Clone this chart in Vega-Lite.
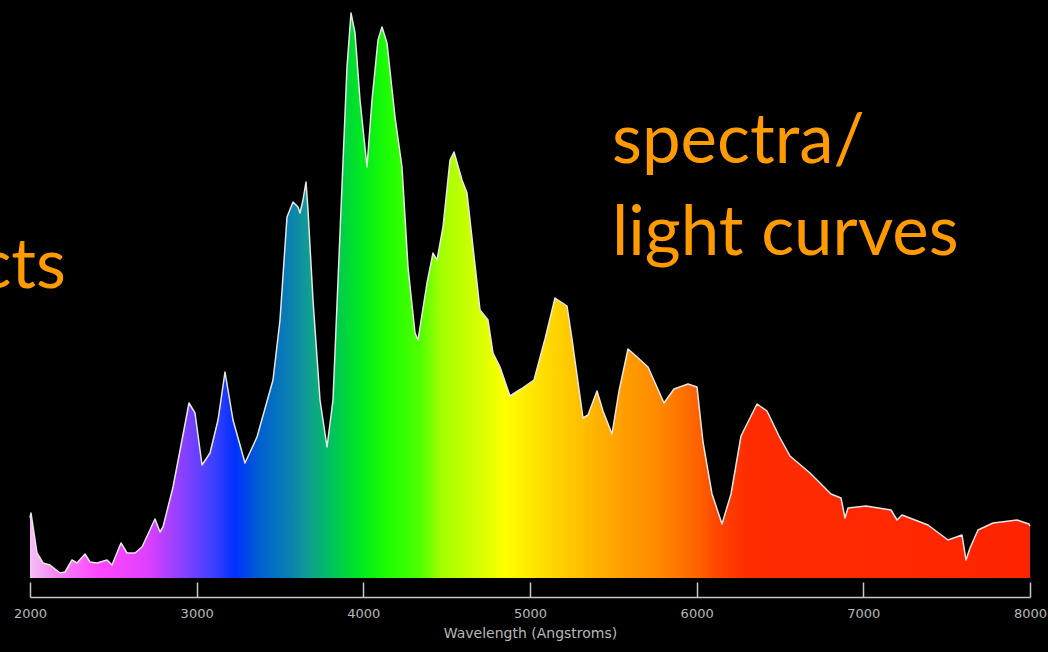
{
  "$schema": "https://vega.github.io/schema/vega-lite/v6.json",
  "width": 1000,
  "height": 578,
  "autosize": {"type": "none"},
  "padding": {"left": 30, "right": 18, "top": 0, "bottom": 74},
  "background": "#000000",
  "config": {"view": {"stroke": null}},
  "datasets": {
    "spectrum": [
      {"wavelength": 2000, "flux": 60}, {"wavelength": 2006, "flux": 65}, {"wavelength": 2042, "flux": 25},
      {"wavelength": 2078, "flux": 15}, {"wavelength": 2120, "flux": 13}, {"wavelength": 2180, "flux": 5},
      {"wavelength": 2210, "flux": 6}, {"wavelength": 2252, "flux": 18}, {"wavelength": 2282, "flux": 15},
      {"wavelength": 2330, "flux": 24}, {"wavelength": 2360, "flux": 16}, {"wavelength": 2402, "flux": 15},
      {"wavelength": 2462, "flux": 18}, {"wavelength": 2492, "flux": 13}, {"wavelength": 2546, "flux": 35},
      {"wavelength": 2582, "flux": 25}, {"wavelength": 2630, "flux": 25}, {"wavelength": 2672, "flux": 31},
      {"wavelength": 2750, "flux": 59}, {"wavelength": 2780, "flux": 46}, {"wavelength": 2798, "flux": 51},
      {"wavelength": 2858, "flux": 91}, {"wavelength": 2912, "flux": 138}, {"wavelength": 2954, "flux": 175},
      {"wavelength": 2990, "flux": 165}, {"wavelength": 3032, "flux": 113}, {"wavelength": 3080, "flux": 125},
      {"wavelength": 3128, "flux": 158}, {"wavelength": 3170, "flux": 206}, {"wavelength": 3218, "flux": 158},
      {"wavelength": 3290, "flux": 115}, {"wavelength": 3362, "flux": 141}, {"wavelength": 3458, "flux": 198},
      {"wavelength": 3500, "flux": 258}, {"wavelength": 3542, "flux": 361}, {"wavelength": 3578, "flux": 376},
      {"wavelength": 3608, "flux": 371}, {"wavelength": 3620, "flux": 365}, {"wavelength": 3638, "flux": 378},
      {"wavelength": 3656, "flux": 396}, {"wavelength": 3668, "flux": 368}, {"wavelength": 3698, "flux": 278},
      {"wavelength": 3740, "flux": 178}, {"wavelength": 3782, "flux": 131}, {"wavelength": 3818, "flux": 178},
      {"wavelength": 3860, "flux": 345}, {"wavelength": 3902, "flux": 511}, {"wavelength": 3926, "flux": 565},
      {"wavelength": 3950, "flux": 545}, {"wavelength": 3980, "flux": 478}, {"wavelength": 4022, "flux": 411},
      {"wavelength": 4052, "flux": 478}, {"wavelength": 4088, "flux": 538}, {"wavelength": 4112, "flux": 551},
      {"wavelength": 4142, "flux": 535}, {"wavelength": 4190, "flux": 461}, {"wavelength": 4232, "flux": 411},
      {"wavelength": 4268, "flux": 311}, {"wavelength": 4310, "flux": 245}, {"wavelength": 4328, "flux": 238},
      {"wavelength": 4382, "flux": 295}, {"wavelength": 4418, "flux": 325}, {"wavelength": 4442, "flux": 318},
      {"wavelength": 4478, "flux": 351}, {"wavelength": 4520, "flux": 418}, {"wavelength": 4544, "flux": 426},
      {"wavelength": 4592, "flux": 398}, {"wavelength": 4622, "flux": 385}, {"wavelength": 4658, "flux": 331},
      {"wavelength": 4700, "flux": 268}, {"wavelength": 4748, "flux": 258}, {"wavelength": 4778, "flux": 225},
      {"wavelength": 4820, "flux": 211}, {"wavelength": 4880, "flux": 182}, {"wavelength": 4946, "flux": 189},
      {"wavelength": 5024, "flux": 198}, {"wavelength": 5090, "flux": 239}, {"wavelength": 5150, "flux": 280},
      {"wavelength": 5222, "flux": 272}, {"wavelength": 5252, "flux": 239}, {"wavelength": 5318, "flux": 160},
      {"wavelength": 5348, "flux": 163}, {"wavelength": 5402, "flux": 187}, {"wavelength": 5438, "flux": 167},
      {"wavelength": 5492, "flux": 144}, {"wavelength": 5534, "flux": 187}, {"wavelength": 5588, "flux": 229},
      {"wavelength": 5636, "flux": 222}, {"wavelength": 5708, "flux": 211}, {"wavelength": 5804, "flux": 175},
      {"wavelength": 5864, "flux": 189}, {"wavelength": 5948, "flux": 194}, {"wavelength": 6002, "flux": 191},
      {"wavelength": 6038, "flux": 136}, {"wavelength": 6092, "flux": 84}, {"wavelength": 6152, "flux": 54},
      {"wavelength": 6206, "flux": 84}, {"wavelength": 6266, "flux": 142}, {"wavelength": 6362, "flux": 174},
      {"wavelength": 6422, "flux": 167}, {"wavelength": 6494, "flux": 142}, {"wavelength": 6560, "flux": 122},
      {"wavelength": 6680, "flux": 105}, {"wavelength": 6806, "flux": 84}, {"wavelength": 6866, "flux": 80},
      {"wavelength": 6890, "flux": 60}, {"wavelength": 6908, "flux": 70}, {"wavelength": 7016, "flux": 72},
      {"wavelength": 7166, "flux": 68}, {"wavelength": 7202, "flux": 58}, {"wavelength": 7232, "flux": 63},
      {"wavelength": 7388, "flux": 53}, {"wavelength": 7508, "flux": 38}, {"wavelength": 7592, "flux": 43},
      {"wavelength": 7616, "flux": 18}, {"wavelength": 7640, "flux": 30}, {"wavelength": 7688, "flux": 48},
      {"wavelength": 7778, "flux": 55}, {"wavelength": 7922, "flux": 58}, {"wavelength": 7994, "flux": 54},
      {"wavelength": 8000, "flux": 52}
    ],
    "leftNotes": [
      {"note": "spectra/", "wavelength": 5492, "flux": 415},
      {"note": "light curves", "wavelength": 5492, "flux": 323}
    ],
    "rightNotes": [
      {"note": "objects", "wavelength": 2216, "flux": 290}
    ]
  },
  "resolve": {"axis": {"x": "independent"}},
  "layer": [
    {
      "data": {"name": "spectrum"},
      "mark": {
        "type": "area",
        "interpolate": "linear",
        "fill": {
          "gradient": "linear",
          "x1": 0, "y1": 0, "x2": 1, "y2": 0,
          "stops": [
            {"offset": 0.0, "color": "#f6c0f6"},
            {"offset": 0.025, "color": "#f488f2"},
            {"offset": 0.067, "color": "#ff48ff"},
            {"offset": 0.117, "color": "#e040ff"},
            {"offset": 0.15, "color": "#9040ff"},
            {"offset": 0.185, "color": "#3a40ff"},
            {"offset": 0.205, "color": "#0030ff"},
            {"offset": 0.23, "color": "#0060d0"},
            {"offset": 0.26, "color": "#0a80b0"},
            {"offset": 0.28, "color": "#10a090"},
            {"offset": 0.3, "color": "#00c060"},
            {"offset": 0.33, "color": "#00e820"},
            {"offset": 0.36, "color": "#20ff00"},
            {"offset": 0.39, "color": "#50ff00"},
            {"offset": 0.41, "color": "#a0ff00"},
            {"offset": 0.45, "color": "#d8ff00"},
            {"offset": 0.475, "color": "#ffff00"},
            {"offset": 0.51, "color": "#ffe000"},
            {"offset": 0.55, "color": "#ffc000"},
            {"offset": 0.59, "color": "#ffa000"},
            {"offset": 0.63, "color": "#ff8800"},
            {"offset": 0.67, "color": "#ff6000"},
            {"offset": 0.685, "color": "#ff4800"},
            {"offset": 0.717, "color": "#ff2c00"},
            {"offset": 1.0, "color": "#ff2400"}
          ]
        }
      },
      "encoding": {
        "x": {
          "field": "wavelength", "type": "quantitative",
          "scale": {"domain": [2000, 8000], "nice": false, "zero": false},
          "axis": {
            "values": [2000, 3000, 4000, 5000, 6000, 7000, 8000],
            "format": "d",
            "offset": 19,
            "domain": true, "domainColor": "#c8c8c8", "domainWidth": 1.5,
            "ticks": true, "tickSize": -15, "tickColor": "#c8c8c8", "tickWidth": 1.5,
            "grid": false,
            "labelFont": "DejaVu Sans", "labelFontSize": 13, "labelColor": "#b8b8b8",
            "labelPadding": 25, "labelFlush": false, "labelOverlap": false,
            "title": "Wavelength (Angstroms)",
            "titleFont": "DejaVu Sans", "titleFontSize": 14, "titleFontWeight": "normal",
            "titleColor": "#b8b8b8", "titlePadding": 6
          }
        },
        "y": {
          "field": "flux", "type": "quantitative",
          "scale": {"domain": [0, 578], "nice": false},
          "axis": null
        }
      }
    },
    {
      "data": {"name": "spectrum"},
      "mark": {"type": "line", "interpolate": "linear", "color": "#e6e6e6", "strokeWidth": 1.5, "strokeJoin": "round"},
      "encoding": {
        "x": {
          "field": "wavelength", "type": "quantitative",
          "axis": {
            "values": [2100, 2200, 2300, 2400, 2500, 2600, 2700, 2800, 2900,
                       3100, 3200, 3300, 3400, 3500, 3600, 3700, 3800, 3900,
                       4100, 4200, 4300, 4400, 4500, 4600, 4700, 4800, 4900,
                       5100, 5200, 5300, 5400, 5500, 5600, 5700, 5800, 5900,
                       6100, 6200, 6300, 6400, 6500, 6600, 6700, 6800, 6900,
                       7100, 7200, 7300, 7400, 7500, 7600, 7700, 7800, 7900],
            "offset": 19,
            "domain": false, "labels": false, "grid": false, "title": null,
            "ticks": true, "tickSize": -8, "tickColor": "#c8c8c8", "tickWidth": 1.5
          }
        },
        "y": {"field": "flux", "type": "quantitative"}
      }
    },
    {
      "data": {"name": "leftNotes"},
      "mark": {"type": "text", "font": "Lato", "fontSize": 69, "color": "#ff9a00", "baseline": "alphabetic", "align": "left"},
      "encoding": {
        "x": {"field": "wavelength", "type": "quantitative", "axis": null},
        "y": {"field": "flux", "type": "quantitative"},
        "text": {"field": "note"}
      }
    },
    {
      "data": {"name": "rightNotes"},
      "mark": {"type": "text", "font": "Lato", "fontSize": 69, "color": "#ff9a00", "baseline": "alphabetic", "align": "right"},
      "encoding": {
        "x": {"field": "wavelength", "type": "quantitative", "axis": null},
        "y": {"field": "flux", "type": "quantitative"},
        "text": {"field": "note"}
      }
    }
  ]
}
